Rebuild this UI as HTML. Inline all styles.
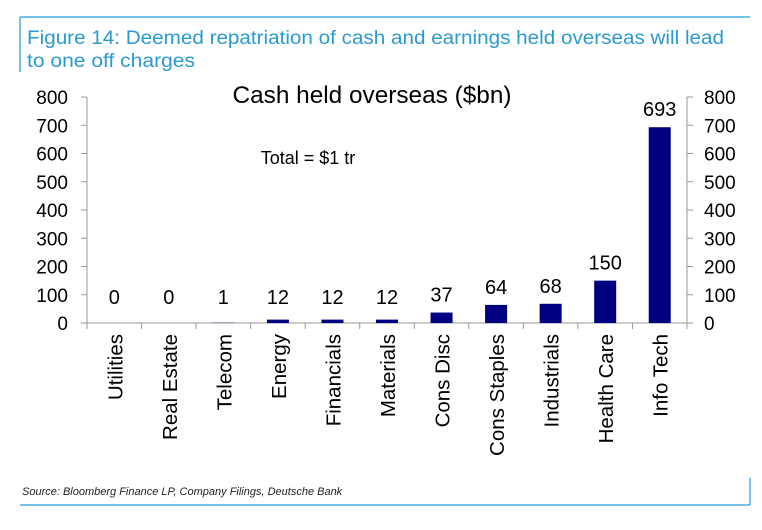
<!DOCTYPE html>
<html><head><meta charset="utf-8"><style>
body{margin:0;background:#fff;width:762px;height:525px;overflow:hidden;font-family:"Liberation Sans",sans-serif}
</style></head><body>
<svg width="762" height="525" xmlns="http://www.w3.org/2000/svg">
<line x1="20" y1="17" x2="750" y2="17" stroke="#4aaee0" stroke-width="1.5"/>
<line x1="20" y1="17" x2="20" y2="72" stroke="#4aaee0" stroke-width="1.5"/>
<text x="27" y="44" font-size="19" fill="#2a9ad2" textLength="697" lengthAdjust="spacingAndGlyphs">Figure 14: Deemed repatriation of cash and earnings held overseas will lead</text>
<text x="27" y="67" font-size="19" fill="#2a9ad2" textLength="168" lengthAdjust="spacingAndGlyphs">to one off charges</text>
<text x="372" y="103" font-size="24" text-anchor="middle" fill="#000" textLength="279" lengthAdjust="spacingAndGlyphs">Cash held overseas ($bn)</text>
<text x="308" y="164" font-size="18" text-anchor="middle" fill="#000">Total = $1 tr</text>
<g id="axes"></g>
<g id="bars"></g>
<line x1="20" y1="505" x2="750" y2="505" stroke="#4aaee0" stroke-width="1.5"/>
<line x1="750" y1="478" x2="750" y2="505" stroke="#4aaee0" stroke-width="1.5"/>
<text x="22" y="495" font-size="11" font-style="italic" fill="#222">Source: Bloomberg Finance LP, Company Filings, Deutsche Bank</text>
</svg>
<script>
const categories=["Utilities","Real Estate","Telecom","Energy","Financials","Materials","Cons Disc","Cons Staples","Industrials","Health Care","Info Tech"];
const values=[0,0,1,12,12,12,37,64,68,150,693];
const yTicks=[0,100,200,300,400,500,600,700,800];
const NS="http://www.w3.org/2000/svg";
const X0=87,X1=687,Y0=323,Y1=97,YMAX=800;
const bw=(X1-X0)/categories.length;
const y=v=>Y0-(v/YMAX)*(Y0-Y1);
const xc=i=>X0+bw*(i+0.5);
function mk(t,a,p){const e=document.createElementNS(NS,t);for(const k in a)e.setAttribute(k,a[k]);p.appendChild(e);return e;}
const ax=document.getElementById('axes'),bg=document.getElementById('bars');
let l=mk('line',{x1:X0,y1:Y0,x2:X1,y2:Y0,stroke:'#999'},ax);


l=mk('line',{x1:X0,y1:y(YMAX),x2:X0,y2:Y0,stroke:'#999'},ax);


l=mk('line',{x1:X1,y1:y(YMAX),x2:X1,y2:Y0,stroke:'#999'},ax);


yTicks.forEach(v=>{
 const yy=y(v);
 mk('line',{x1:X0-6,y1:yy,x2:X0,y2:yy,stroke:'#999'},ax);
 mk('line',{x1:X1,y1:yy,x2:X1+6,y2:yy,stroke:'#999'},ax);
 let t=mk('text',{x:68,y:yy+7,'font-size':19,'text-anchor':'end'},ax);t.textContent=v;
 
 
 t=mk('text',{x:704,y:yy+7,'font-size':19},ax);t.textContent=v;
 
 
});
for(let i=0;i<=categories.length;i++){mk('line',{x1:X0+bw*i,y1:Y0,x2:X0+bw*i,y2:Y0+6,stroke:'#999'},ax);}
categories.forEach((c,i)=>{
 const cx=xc(i),top=y(values[i]);
 const r=mk('rect',{x:cx-11,y:top,width:22,height:Y0-top,fill:'#000080'},bg);
 
 
 let t=mk('text',{x:cx,y:Math.min(top,Y0-8)-11,'font-size':20,'text-anchor':'middle'},bg);t.textContent=values[i];
 
 
 t=mk('text',{x:0,y:0,'font-size':20.5,'text-anchor':'end',transform:`translate(${cx+8},334) rotate(-90)`},bg);t.textContent=c;
 
 
});
</script>
</body></html>
